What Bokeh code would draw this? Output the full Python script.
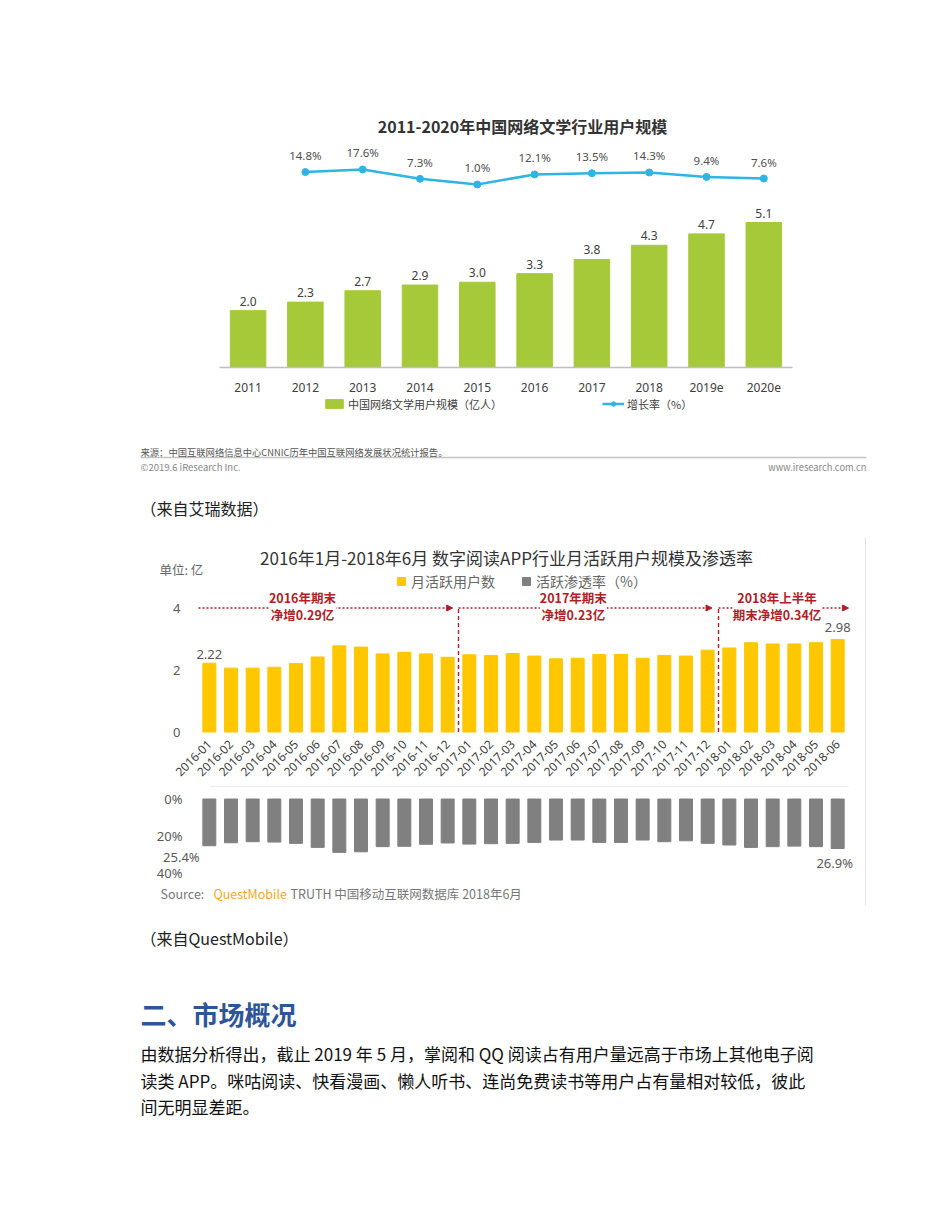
import math
from bokeh.plotting import figure
from bokeh.models import (Range1d, Label, Legend, LegendItem, Arrow, NormalHead,
                          FixedTicker, LinearAxis)
from bokeh.embed import file_html
from bokeh.resources import INLINE
from bokeh.core.properties import value

# ---------------- chart 1 data (iResearch) ----------------
years = ["2011", "2012", "2013", "2014", "2015", "2016", "2017", "2018", "2019e", "2020e"]
users = [2.0, 2.3, 2.7, 2.9, 3.0, 3.3, 3.8, 4.3, 4.7, 5.1]
growth_years = ["2012", "2013", "2014", "2015", "2016", "2017", "2018", "2019e", "2020e"]
growth = [14.8, 17.6, 7.3, 1.0, 12.1, 13.5, 14.3, 9.4, 7.6]

# ---------------- chart 2 data (QuestMobile) ----------------
months = ["2016-01", "2016-02", "2016-03", "2016-04", "2016-05", "2016-06",
          "2016-07", "2016-08", "2016-09", "2016-10", "2016-11", "2016-12",
          "2017-01", "2017-02", "2017-03", "2017-04", "2017-05", "2017-06",
          "2017-07", "2017-08", "2017-09", "2017-10", "2017-11", "2017-12",
          "2018-01", "2018-02", "2018-03", "2018-04", "2018-05", "2018-06"]
mau = [2.22, 2.06, 2.06, 2.09, 2.21, 2.42, 2.78, 2.74, 2.52, 2.57, 2.52, 2.41,
       2.49, 2.47, 2.53, 2.45, 2.36, 2.38, 2.50, 2.50, 2.38, 2.47, 2.45, 2.64,
       2.71, 2.88, 2.84, 2.84, 2.88, 2.98]
pen = [25.4, 23.8, 23.2, 23.4, 24.1, 26.3, 29.0, 28.7, 25.9, 25.7, 24.6, 23.9,
       24.5, 24.3, 24.1, 23.6, 22.3, 22.3, 23.6, 23.6, 22.3, 23.2, 22.7, 24.1,
       25.0, 26.3, 25.9, 25.6, 25.9, 26.9]
mau_ticks = [0, 2, 4]
pen_ticks = [0, 20, 40]
period_notes = ["2016年期末\n净增0.29亿", "2017年期末\n净增0.23亿", "2018年上半年\n期末净增0.34亿"]

CJK = "Noto Sans CJK SC"
NUM = "Noto Sans"
GREEN = "#A6C93A"
CYAN = "#2FB5E3"
YELLOW = "#FFC700"
GREY = "#808080"
RED = "#B01E28"

# ---------------- page geometry (one figure = whole page) ----------------
W, H = 934, 1160
LEFT, RIGHT, TOP, BOTTOM = 0, W, 0, H


def xr(zero_px, ppu):
    return Range1d((LEFT - zero_px) / ppu, (RIGHT - zero_px) / ppu)


def yr(zero_px, ppu):
    return Range1d((zero_px - BOTTOM) / ppu, (zero_px - TOP) / ppu)


p = figure(width=W, height=H, x_range=Range1d(LEFT, RIGHT), y_range=Range1d(BOTTOM, TOP),
           x_axis_location=None, y_axis_location=None, min_border=0,
           toolbar_location=None, output_backend="svg")
p.outline_line_color = None
p.background_fill_color = "white"
p.border_fill_color = "white"
for g in p.grid:
    g.visible = False

p.extra_x_ranges = {"c1": xr(247.6, 57.3), "c2": xr(208.83, 21.667)}
p.extra_y_ranges = {"c1": yr(367, 28.43), "g": yr(184.9, 0.904),
                    "m": yr(731.5, 31.0), "pn": yr(798.5, -1.84)}


def lab(x, y, text, size, color="#333333", weight="normal", align="left",
        baseline="middle", font=CJK, **kw):
    p.add_layout(Label(x=x, y=y, text=text, text_font=font, text_font_size=f"{size}px",
                       text_color=color, text_font_style=weight, text_align=align,
                       text_baseline=baseline, **kw))


def plain_axis(ax):
    ax.axis_line_color = None
    ax.major_tick_line_color = None
    ax.minor_tick_line_color = None
    ax.major_label_text_color = "#595959"
    ax.major_label_text_font = NUM
    return ax


# ================= chart 1 =================
idx1 = list(range(len(years)))
gidx = [years.index(y) for y in growth_years]
bars = p.vbar(x=idx1, top=users, width=0.62, color=GREEN, x_range_name="c1", y_range_name="c1")
p.text(x=idx1, y=users, text=[f"{v:.1f}" for v in users], x_range_name="c1", y_range_name="c1",
       text_align="center", text_baseline="bottom", y_offset=-5, text_font_size="12px",
       text_color="#404040", text_font=value(NUM))
gline = p.line(x=gidx, y=growth, x_range_name="c1", y_range_name="g",
               line_color=CYAN, line_width=2.5)
gdots = p.scatter(x=gidx, y=growth, x_range_name="c1", y_range_name="g", size=7, color=CYAN)
p.text(x=gidx, y=growth, x_range_name="c1", y_range_name="g",
       text=[f"{v:.1f}%" for v in growth], text_align="center", text_baseline="bottom",
       y_offset=-9, text_font_size="11.5px", text_color="#505050", text_font=value(NUM))

ax1 = LinearAxis(x_range_name="c1", y_range_name="c1", fixed_location=0,
                 ticker=FixedTicker(ticks=idx1),
                 major_label_overrides={i: y for i, y in zip(idx1, years)},
                 bounds=(idx1[0] - 0.5, idx1[-1] + 0.5))
ax1.axis_line_color = "#BFBFBF"
ax1.axis_line_width = 1.5
ax1.major_tick_line_color = None
ax1.minor_tick_line_color = None
ax1.major_label_standoff = 9
ax1.major_label_text_font_size = "12px"
ax1.major_label_text_color = "#404040"
ax1.major_label_text_font = NUM
p.add_layout(ax1, "below")

legA = Legend(items=[LegendItem(label="中国网络文学用户规模（亿人）", renderers=[bars]),
                     LegendItem(label="增长率（%）", renderers=[gline, gdots])],
              orientation="horizontal", location=(323 - LEFT, BOTTOM - 411.5), spacing=100,
              glyph_width=22, glyph_height=11, label_standoff=3, padding=0, margin=0,
              border_line_color=None, background_fill_alpha=0,
              label_text_font_size="11px", label_text_font=CJK, label_text_color="#404040")
p.add_layout(legA)
lab(522, 125, "2011-2020年中国网络文学行业用户规模", 16, "#333333", "bold", align="center")

# footer of chart 1
lab(140, 451, "来源：中国互联网络信息中心CNNIC历年中国互联网络发展状况统计报告。", 9.3, "#555555")
p.segment(x0=[140], y0=[457], x1=[866], y1=[457], line_color="#C4C4C4", line_width=1.5)
lab(140, 466, "©2019.6 iResearch Inc.", 9.5, "#888888")
lab(866, 466, "www.iresearch.com.cn", 9.3, "#888888", align="right")
lab(140, 507, "（来自艾瑞数据）", 16, "#222222")

# ================= chart 2 =================
idx2 = list(range(len(months)))
ybars = p.vbar(x=idx2, top=mau, width=0.6, color=YELLOW, x_range_name="c2", y_range_name="m")
gbars = p.vbar(x=idx2, top=0, bottom=pen, width=0.6, color=GREY, x_range_name="c2", y_range_name="pn")

ax2 = plain_axis(LinearAxis(x_range_name="c2", y_range_name="m", fixed_location=0,
                            ticker=FixedTicker(ticks=idx2),
                            major_label_overrides={i: m for i, m in zip(idx2, months)}))
ax2.major_label_orientation = math.pi / 4
ax2.major_label_text_font_size = "12px"
ax2.major_label_text_color = "#404040"
ax2.major_label_standoff = 4
p.add_layout(ax2, "below")

ay2 = plain_axis(LinearAxis(x_range_name="c2", y_range_name="m", fixed_location=idx2[0] - 0.5,
                            ticker=FixedTicker(ticks=mau_ticks)))
ay2.major_label_standoff = 12
ay2.major_label_text_font_size = "13px"
p.add_layout(ay2, "left")

ay3 = plain_axis(LinearAxis(x_range_name="c2", y_range_name="pn", fixed_location=idx2[0] - 0.5,
                            ticker=FixedTicker(ticks=pen_ticks),
                            major_label_overrides={t: f"{t}%" for t in pen_ticks}))
ay3.major_label_standoff = 10
ay3.major_label_text_font_size = "13px"
p.add_layout(ay3, "left")

b1 = months.index("2017-01") - 0.5
b2 = months.index("2018-01") - 0.5
arrow_spans = [(idx2[0] - 0.5, b1 - 0.27), (b1, b2 - 0.3), (b2, idx2[-1] + 0.5)]
for s, e in arrow_spans:
    p.add_layout(Arrow(x_start=s, y_start=mau_ticks[-1], x_end=e, y_end=mau_ticks[-1],
                       x_range_name="c2", y_range_name="m",
                       line_color=RED, line_width=1.3, line_dash="2 2",
                       end=NormalHead(size=6, fill_color=RED, line_color=RED)))
for b in (b1, b2):
    p.add_layout(Arrow(x_start=b, y_start=0, x_end=b, y_end=mau_ticks[-1], end=None,
                       x_range_name="c2", y_range_name="m",
                       line_color=RED, line_width=1.4, line_dash="4 3"))
for xc, note in zip([4.3, 16.8, 26.2], period_notes):
    p.add_layout(Label(x=xc, y=mau_ticks[-1], x_range_name="c2", y_range_name="m",
                       text=note, text_align="center", text_baseline="middle",
                       text_font=CJK, text_font_size="12.5px", text_font_style="bold",
                       text_line_height=0.85,
                       text_color=RED, background_fill_color="white", y_offset=2))

p.text(x=[idx2[0]], y=[mau[0]], text=[f"{mau[0]:.2f}"], x_range_name="c2", y_range_name="m",
       text_align="center", text_baseline="bottom", y_offset=-4, text_font_size="13px",
       text_color="#595959", text_font=value(NUM))
p.text(x=[idx2[-1]], y=[mau[-1]], text=[f"{mau[-1]:.2f}"], x_range_name="c2", y_range_name="m",
       text_align="center", text_baseline="bottom", y_offset=-8, text_font_size="13px",
       text_color="#595959", text_font=value(NUM))
p.text(x=[idx2[0]], y=[pen[0]], text=[f"{pen[0]:.1f}%"], x_range_name="c2", y_range_name="pn",
       text_align="center", text_baseline="middle", x_offset=-28, y_offset=11,
       text_font_size="13px", text_color="#595959", text_font=value(NUM))
p.text(x=[idx2[-1]], y=[pen[-1]], text=[f"{pen[-1]:.1f}%"], x_range_name="c2", y_range_name="pn",
       text_align="center", text_baseline="middle", x_offset=-3, y_offset=15,
       text_font_size="13px", text_color="#595959", text_font=value(NUM))

legC = Legend(items=[LegendItem(label="月活跃用户数", renderers=[ybars]),
                     LegendItem(label="活跃渗透率（%）", renderers=[gbars])],
              orientation="horizontal", location=(396 - LEFT, BOTTOM - 591), spacing=26,
              glyph_width=10, glyph_height=10, label_standoff=5, padding=0, margin=0,
              border_line_color=None, background_fill_alpha=0,
              label_text_font_size="14px", label_text_font=CJK, label_text_color="#666666")
p.add_layout(legC)
lab(506, 557, "2016年1月-2018年6月 数字阅读APP行业月活跃用户规模及渗透率", 17, "#333333", align="center")
lab(159, 569, "单位: 亿", 12.5, "#666666")
lab(160, 893, "Source:", 12.5, "#777777")
lab(213, 893, "QuestMobile", 12.5, "#F2A81D")
lab(290, 893, "TRUTH 中国移动互联网数据库 2018年6月", 12.5, "#777777")
p.segment(x0=[210], y0=[786], x1=[848], y1=[786], line_color="#EDEDED", line_width=1.5)
p.segment(x0=[865], y0=[537], x1=[865], y1=[905], line_color="#E2E2E2", line_width=1)

# ================= text section =================
lab(140, 937, "（来自QuestMobile）", 16, "#222222")
lab(140, 1013, "二、市场概况", 26, "#2E5597", "bold")
lab(140, 1053, "由数据分析得出，截止 2019 年 5 月，掌阅和 QQ 阅读占有用户量远高于市场上其他电子阅", 17, "#111111")
lab(140, 1080, "读类 APP。咪咕阅读、快看漫画、懒人听书、连尚免费读书等用户占有量相对较低，彼此", 17, "#111111")
lab(140, 1106, "间无明显差距。", 17, "#111111")

open("out.html", "w").write(file_html(p, INLINE))
